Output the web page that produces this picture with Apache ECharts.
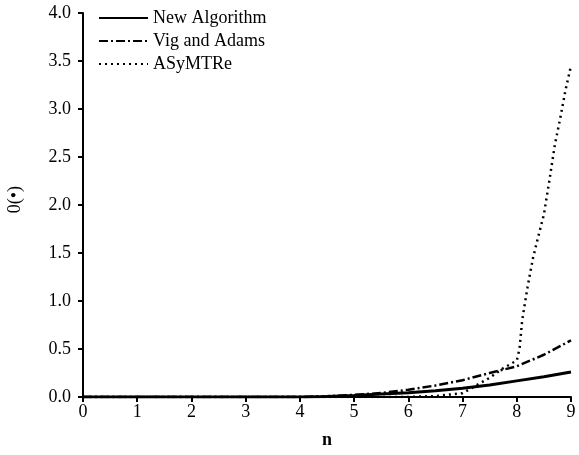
<!DOCTYPE html>
<html><head><meta charset="utf-8">
<script src="https://cdn.jsdelivr.net/npm/echarts@6/dist/echarts.min.js"></script>
<style>html,body{margin:0;padding:0;background:#fff}#c{width:579px;height:455px}</style>
</head><body><div id="c"></div>
<script>
const seriesNames = ['New Algorithm', 'Vig and Adams', 'ASyMTRe'];
const nNew = [0, 1, 2, 3, 4, 4.5, 5, 5.5, 6, 6.5, 7, 7.5, 8, 8.5, 9];
const vNew = [0, 0, 0, 0, 0, 0.006, 0.016, 0.03, 0.045, 0.065, 0.09, 0.125, 0.168, 0.21, 0.26];
const nVig = [0, 1, 2, 3, 4, 4.5, 5, 5.5, 6, 6.5, 7, 7.5, 8, 8.5, 9];
const vVig = [0, 0, 0, 0, 0, 0.008, 0.022, 0.042, 0.075, 0.12, 0.175, 0.25, 0.32, 0.44, 0.59];
const nAsy = [0, 1, 2, 3, 4, 5, 6, 6.5, 7, 7.25, 7.5, 7.75, 8, 8.05, 8.1, 8.2, 8.3, 8.4, 8.5, 8.6, 8.7, 8.8, 8.9, 9];
const vAsy = [0, 0, 0, 0, 0, 0, 0, 0.01, 0.04, 0.12, 0.2, 0.3, 0.38, 0.5, 0.8, 1.15, 1.45, 1.68, 1.9, 2.25, 2.62, 2.9, 3.2, 3.45];
const xTicks = [0, 1, 2, 3, 4, 5, 6, 7, 8, 9];
const yTicks = [0, 0.5, 1, 1.5, 2, 2.5, 3, 3.5, 4];

const font = 'Liberation Serif';
const pair = (xs, ys) => xs.map((x, i) => [x, ys[i]]);
const chart = echarts.init(document.getElementById('c'));
chart.setOption({
  animation: false,
  backgroundColor: '#fff',
  textStyle: { fontFamily: font },
  grid: { left: 83, right: 8, top: 13, bottom: 58 },
  legend: {
    orient: 'vertical', left: 93, top: 4, itemWidth: 49, itemHeight: 14, itemGap: 5,
    itemStyle: { opacity: 0 },
    textStyle: { fontFamily: font, fontSize: 18, color: '#000' },
    data: seriesNames
  },
  xAxis: {
    type: 'value', min: xTicks[0], max: xTicks[xTicks.length - 1], interval: 1,
    name: 'n', nameLocation: 'middle', nameGap: 34,
    nameTextStyle: { fontFamily: font, fontSize: 18, fontWeight: 'bold', color: '#000' },
    axisLine: { onZero: false, lineStyle: { color: '#000', width: 2 } },
    axisTick: { show: true, length: 5, lineStyle: { color: '#000', width: 2 } },
    axisLabel: { fontFamily: font, fontSize: 18, color: '#000', margin: 6 },
    splitLine: { show: false }
  },
  yAxis: {
    type: 'value', min: yTicks[0], max: yTicks[yTicks.length - 1], interval: 0.5,
    axisLine: { show: true, lineStyle: { color: '#000', width: 2 } },
    axisTick: { show: true, length: 5, lineStyle: { color: '#000', width: 2 } },
    axisLabel: { fontFamily: font, fontSize: 18, color: '#000', margin: 12, formatter: v => v.toFixed(1) },
    splitLine: { show: false }
  },
  graphic: [{
    type: 'text', left: 6, top: 186, rotation: Math.PI / 2,
    style: { text: '0(•)', font: '18px "Liberation Serif"', fill: '#000' }
  }],
  series: [
    { name: seriesNames[0], type: 'line', data: pair(nNew, vNew), showSymbol: false, symbol: 'none',
      lineStyle: { color: '#000', width: 3, type: 'solid' }, itemStyle: { color: '#000' }, z: 3 },
    { name: seriesNames[1], type: 'line', data: pair(nVig, vVig), showSymbol: false, symbol: 'none',
      lineStyle: { color: '#000', width: 2.5, type: [9, 3, 2, 3] }, itemStyle: { color: '#000' }, z: 2 },
    { name: seriesNames[2], type: 'line', data: pair(nAsy, vAsy), showSymbol: false, symbol: 'none',
      lineStyle: { color: '#000', width: 2.5, type: [2, 4] }, itemStyle: { color: '#000' }, z: 1 }
  ]
});
</script></body></html>
